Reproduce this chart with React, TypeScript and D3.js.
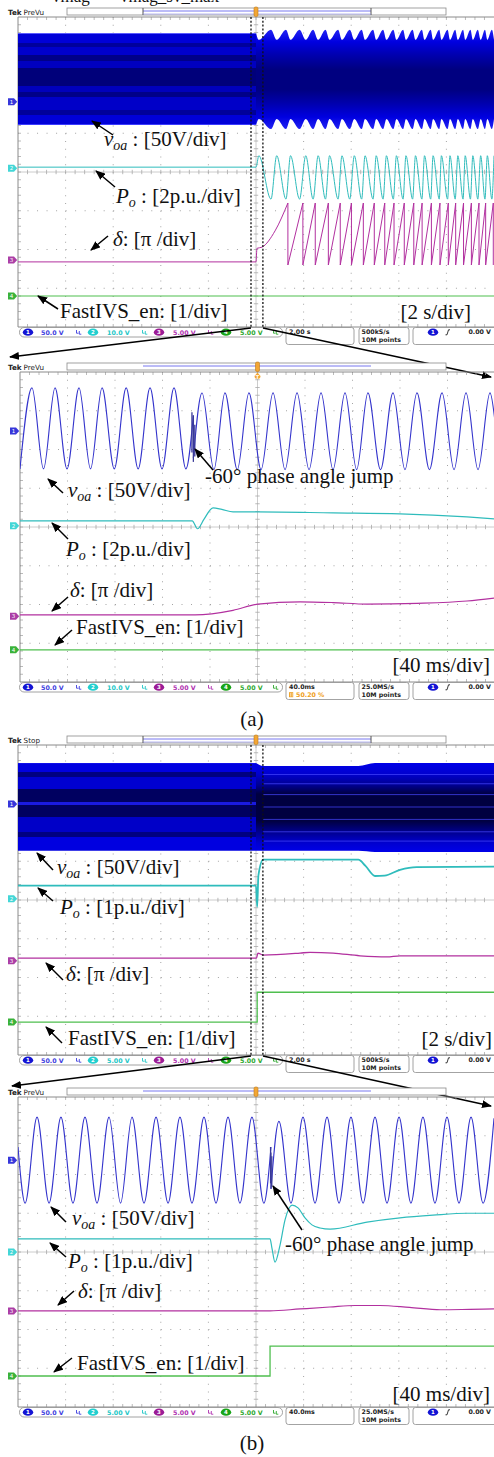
import React from "react";
import * as d3 from "d3";

const W = 494;
const H = 1457;
const SERIF = "'Liberation Serif', 'Times New Roman', serif";
const SANS = "'DejaVu Sans', 'Liberation Sans', sans-serif";

// ================= DATA =================
// ---- (a) overview, 2 s/div, time in s ----
const A1_VOA_PRE_T = [-10, 0];
const A1_VOA_PRE_TOP = [89, 89];
const A1_VOA_PRE_BOT = [-30, -30];
const A1_PO_PEAK_T = [0.12, 0.87, 1.45, 2.09, 2.61, 3.09, 3.61, 4.13, 4.58, 5.05, 5.48, 5.9, 6.3, 6.7, 7.08, 7.44, 7.79, 8.15, 8.48, 8.79, 9.11, 9.44, 9.72, 10.0];
const A1_PO_TROUGH_T = [0.63, 1.26, 1.83, 2.4, 2.92, 3.45, 3.94, 4.44, 4.92, 5.34, 5.77, 6.18, 6.58, 6.97, 7.34, 7.7, 8.05, 8.37, 8.7, 9.01, 9.32, 9.62, 9.91];
const A1_PO_PRE_T = [-10, 0];
const A1_PO_PRE_V = [0.05, 0.05];
const A1_PO_PEAK = 0.64;
const A1_PO_TROUGH = -1.6;
const A1_VOA_TOP_CUSP = 93;
const A1_VOA_TOP_DIP = 80;
const A1_VOA_BOT_CUSP = -35;
const A1_VOA_BOT_DIP = -22;
const A1_DELTA_START_T = [-10, 0, 0.04, 0.25, 0.8, 1.34];
const A1_DELTA_START_V = [-0.05, -0.05, 0.3, 0.33, 0.75, 1.47];
const A1_DELTA_WRAP_T = [1.34, 1.97, 2.49, 3.04, 3.54, 4.01, 4.51, 4.97, 5.41, 5.8, 6.23, 6.63, 6.98, 7.37, 7.73, 8.08, 8.39, 8.72, 9.05, 9.37, 9.65, 9.97];
const A1_DELTA_TOP = 1.47;
const A1_DELTA_BOTTOM = -0.13;
const A1_FIVS_T = [-10, 10];
const A1_FIVS_V = [0, 0];

// ---- (a) zoom, 40 ms/div, time in ms ----
const A2_VOA_PRE_PEAK_T = [-189.9, -170.5, -150.3, -130.9, -110.6, -90.5, -70.3];
const A2_VOA_PRE_TROUGH_T = [-200, -180.2, -160.4, -140.6, -120.6, -100.5, -80.4, -60.3];
const A2_VOA_POST_PEAK_T = [-46.7, -27.4, -7.2, 13.1, 33.3, 53.5, 73.7, 93.0, 114.1, 134.3, 155.4, 175.6, 195.8];
const A2_VOA_POST_TROUGH_T = [-36.7, -17.0, 3.0, 23.2, 43.4, 63.6, 83.5, 103.6, 124.2, 144.8, 165.5, 185.7];
const A2_VOA_PRE_PEAK = 55.5;
const A2_VOA_PRE_TROUGH = -49;
const A2_VOA_POST_PEAK = 49;
const A2_VOA_POST_TROUGH = -50;
const A2_JUMP_T = -54;
const A2_JUMP_PRE_V = 20;
const A2_JUMP_POST_V = -35;
const A2_VOA_END_T = 200;
const A2_VOA_END_V = 12;
const A2_GLITCH_T = [-55.2, -54, -52.8];
const A2_GLITCH_HI = [24, 20, 8];
const A2_GLITCH_LO = [-28, -40, -33];
const A2_PO_T = [-200, -55, -50.5, -45, -37.5, -30, -20.6, 0.4, 63.6, 120, 176.4, 200];
const A2_PO_V = [0.26, 0.26, -0.15, 0.35, 0.93, 0.85, 0.72, 0.72, 0.67, 0.62, 0.46, 0.36];
const A2_DELTA_T = [-200, -52.6, -20.6, 0.4, 35.8, 63.6, 92.2, 134.3, 176.4, 200];
const A2_DELTA_V = [0.03, 0.03, 0.15, 0.31, 0.37, 0.35, 0.31, 0.33, 0.39, 0.47];
const A2_FIVS_T = [-200, 200];
const A2_FIVS_V = [0, 0];

// ---- (b) overview, 2 s/div ----
const B1_VOA_PRE_T = [-10, 0];
const B1_VOA_PRE_TOP = [52.9, 52.9];
const B1_VOA_PRE_BOT = [-60.6, -60.6];
const B1_VOA_POST_T = [0, 0.3, 4.3, 5.0, 10];
const B1_VOA_POST_TOP = [52.9, 49, 49, 52.9, 52.9];
const B1_VOA_POST_BOT = [-60.6, -60.6, -60.6, -62, -62];
const B1_VOA_INNER_V = [38, 26, 12, -4, -20, -36, -48];
const B1_PO_T = [-10, 0, 0.05, 0.1, 0.3, 4.3, 4.6, 5.0, 5.4, 6.05, 6.75, 10];
const B1_PO_V = [0.34, 0.34, -0.2, 0.6, 1.01, 1.01, 0.85, 0.59, 0.6, 0.75, 0.82, 0.83];
const B1_DELTA_T = [-10, 0.02, 0.08, 0.29, 1.85, 2.27, 3.24, 4.37, 5.5, 6.05, 10];
const B1_DELTA_V = [0.07, 0.07, 0.2, 0.15, 0.2, 0.22, 0.2, 0.13, 0.1, 0.13, 0.13];
const B1_FIVS_T = [-10, 0.05, 0.05, 10];
const B1_FIVS_V = [0, 0, 0.77, 0.77];

// ---- (b) zoom, 40 ms/div ----
const B2_VOA_START = [-200, 17];
const B2_VOA_PRE_PEAK_T = [-184, -163.9, -143.7, -123.5, -104.2, -84, -63.9, -43.7, -23.5, -3.4];
const B2_VOA_PRE_TROUGH_T = [-194, -173.9, -153.8, -133.6, -113.8, -94.1, -73.9, -53.8, -33.6, -13.5, 6.6];
const B2_VOA_POST_PEAK_T = [19.3, 39.5, 59.7, 79.8, 100, 120.2, 140.3, 160.5, 180.7];
const B2_VOA_POST_TROUGH_T = [29.4, 49.6, 69.8, 90, 110.1, 130.2, 150.4, 170.6, 190.8];
const B2_VOA_PEAK = 55.5;
const B2_VOA_TROUGH = -55.5;
const B2_VOA_FIRST_POST_PEAK = 50;
const B2_JUMP_T = 12.6;
const B2_JUMP_PRE_V = 17;
const B2_JUMP_POST_V = -37;
const B2_VOA_END_T = 200;
const B2_VOA_END_V = 54;
const B2_GLITCH_T = [12.2, 12.6, 13.3];
const B2_GLITCH_HI = [17, 10, 5];
const B2_GLITCH_LO = [-30, -37, -34];
const B2_PO_T = [-200, 11.8, 13.4, 16, 20.2, 24.4, 30.3, 35.3, 41.2, 47, 53.8, 62.2, 93.3, 121, 148.7, 177.3, 200];
const B2_PO_V = [0.34, 0.34, 0.1, -0.26, 0.18, 0.83, 1.21, 1.14, 0.88, 0.7, 0.62, 0.59, 0.77, 0.88, 0.95, 1.0, 1.0];
const B2_DELTA_T = [-200, 11.8, 37, 62, 83, 104, 129, 155, 180, 200];
const B2_DELTA_V = [0, 0, 0.05, 0.1, 0.14, 0.14, 0.09, 0.03, 0.04, 0.05];
const B2_FIVS_T = [-200, 11.8, 11.8, 200];
const B2_FIVS_V = [0, 0, 0.77, 0.77];

// zoom window on the overview screens (s)
const ZOOM_WIN_T = [-0.21, 0.29];

// status-bar texts
const A_CH_TEXT = ["50.0 V", "10.0 V", "5.00 V", "5.00 V"];
const B_CH_TEXT = ["50.0 V", "5.00 V", "5.00 V", "5.00 V"];
const OVERVIEW_TIME = "2.00 s";
const ZOOM_TIME = "40.0ms";
const OVERVIEW_RATE = "500kS/s";
const ZOOM_RATE = "25.0MS/s";
const RECORD = "10M points";
const TRIG_LEVEL = "0.00 V";
const ZOOM_POS = "50.20 %";

// ================= LAYOUT / STYLE =================
type Cfg = {
  x0: number; x1: number; y0: number; y1: number; tMax: number;
  pos: number[]; scale: number[];
};
const PA1: Cfg = { x0: 18, x1: 494, y0: 17, y1: 327, tMax: 10, pos: [1.81, 0.1, -2.27, -3.2], scale: [50, 2, 1, 1] };
const PA2: Cfg = { x0: 20, x1: 495, y0: 372, y1: 682, tMax: 200, pos: [2.48, 0.03, -2.3, -3.17], scale: [50, 2, 1, 1] };
const PB1: Cfg = { x0: 18, x1: 494, y0: 745, y1: 1055, tMax: 10, pos: [2.48, 0.03, -1.57, -3.15], scale: [50, 1, 1, 1] };
const PB2: Cfg = { x0: 18, x1: 494, y0: 1097, y1: 1407, tMax: 200, pos: [2.37, 0, -1.52, -3.2], scale: [50, 1, 1, 1] };

const TRACE = ["#3434cc", "#2fbcbc", "#b2309f", "#4fbf4f"];
const BADGE = ["#1414d4", "#22cfcf", "#9c1c96", "#18a418"];
const STXT = ["#3d3de0", "#22c6c6", "#b030b0", "#2ea82e"];

type P = [number, number];

function scalesOf(c: Cfg) {
  const x = d3.scaleLinear().domain([-c.tMax, c.tMax]).range([c.x0, c.x1]);
  const y = d3.scaleLinear().domain([-4, 4]).range([c.y1, c.y0]);
  const yv = (ch: number, v: number) => y(c.pos[ch] + v / c.scale[ch]);
  return { x, y, yv };
}
function zip(ts: number[], vs: number[]): P[] {
  return ts.map((t, i) => [t, vs[i]] as P);
}
function alternate(aT: number[], aV: number, bT: number[], bV: number): P[] {
  return [...aT.map((t) => [t, aV] as P), ...bT.map((t) => [t, bV] as P)].sort((p, q) => p[0] - q[0]);
}
function tracePath(c: Cfg, ch: number, pts: P[], curve: any = d3.curveMonotoneX) {
  const { x, yv } = scalesOf(c);
  return (
    d3
      .line<P>()
      .x((d) => x(d[0]))
      .y((d) => yv(ch, d[1]))
      .curve(curve)(pts) || ""
  );
}
type B = { t: number; top: number; bot: number };
function bandPath(c: Cfg, pts: B[], curve: any = d3.curveMonotoneX) {
  const { x, yv } = scalesOf(c);
  return (
    d3
      .area<B>()
      .x((d) => x(d.t))
      .y0((d) => yv(0, d.bot))
      .y1((d) => yv(0, d.top))
      .curve(curve)(pts) || ""
  );
}

function Graticule({ c }: { c: Cfg }) {
  const { x0, x1, y0, y1 } = c;
  const dx = (x1 - x0) / 10;
  const dy = (y1 - y0) / 8;
  const cx = x0 + 5 * dx;
  const cy = y0 + 4 * dy;
  const els: React.ReactNode[] = [];
  for (let i = 1; i < 10; i++) {
    if (i === 5) continue;
    const xx = x0 + i * dx;
    els.push(<line key={"v" + i} x1={xx} x2={xx} y1={y0} y2={y1} stroke="#9a9a9a" strokeWidth={0.9} strokeDasharray={`1 ${dy / 5 - 1}`} />);
  }
  for (let j = 1; j < 8; j++) {
    if (j === 4) continue;
    const yy = y0 + j * dy;
    els.push(<line key={"h" + j} x1={x0} x2={x1} y1={yy} y2={yy} stroke="#9a9a9a" strokeWidth={0.9} strokeDasharray={`1 ${dx / 5 - 1}`} />);
  }
  els.push(<line key="cv" x1={cx} x2={cx} y1={y0} y2={y1} stroke="#c6c6c6" strokeWidth={0.9} />);
  els.push(<line key="ch" x1={x0} x2={x1} y1={cy} y2={cy} stroke="#c6c6c6" strokeWidth={0.9} />);
  for (let k = 1; k < 50; k++) {
    const xx = x0 + (k * dx) / 5;
    els.push(<line key={"tc" + k} x1={xx} x2={xx} y1={cy - 2.2} y2={cy + 2.2} stroke="#a8a8a8" strokeWidth={0.8} />);
    els.push(<line key={"tt" + k} x1={xx} x2={xx} y1={y0} y2={y0 + 3} stroke="#a8a8a8" strokeWidth={0.8} />);
    els.push(<line key={"tb" + k} x1={xx} x2={xx} y1={y1 - 3} y2={y1} stroke="#a8a8a8" strokeWidth={0.8} />);
  }
  for (let k = 1; k < 40; k++) {
    const yy = y0 + (k * dy) / 5;
    els.push(<line key={"vc" + k} x1={cx - 2.2} x2={cx + 2.2} y1={yy} y2={yy} stroke="#a8a8a8" strokeWidth={0.8} />);
    els.push(<line key={"vl" + k} x1={x0} x2={x0 + 3} y1={yy} y2={yy} stroke="#a8a8a8" strokeWidth={0.8} />);
  }
  els.push(<path key="bd" d={`M${x1 + 2},${y0} H${x0} V${y1} H${x1 + 2}`} stroke="#8a8a8a" strokeWidth={1} fill="none" />);
  return <g>{els}</g>;
}

function Header({ c, mode, bars, drop }: { c: Cfg; mode: string; bars: boolean; drop: boolean }) {
  const { x } = scalesOf(c);
  const tx = x(0);
  const by = c.y0 - 9;
  return (
    <g>
      <text x={8} y={c.y0 - 2.5} fontFamily={SANS} fontSize={7.2} fill="#222">
        <tspan fontWeight="bold">Tek</tspan>
        <tspan dx={2}>{mode}</tspan>
      </text>
      <rect x={67} y={by} width={379} height={7} fill="#fff" stroke="#8a8a8a" strokeWidth={0.8} />
      <line x1={143} x2={371} y1={by + 3} y2={by + 3} stroke="#7878f0" strokeWidth={1} />
      {bars && <line x1={143} x2={143} y1={by} y2={by + 7} stroke="#555" strokeWidth={1} />}
      {bars && <line x1={371} x2={371} y1={by} y2={by + 7} stroke="#555" strokeWidth={1} />}
      {bars && <line x1={143} x2={371} y1={by + 6} y2={by + 6} stroke="#8a8af0" strokeWidth={0.6} />}
      <rect x={tx - 2} y={by - 1} width={4} height={9.5} rx={1.5} fill="#f2a634" stroke="#c07818" strokeWidth={0.6} />
      {drop && (
        <g>
          <path d={`M${tx - 3},${c.y0 + 4} L${tx},${c.y0 + 0.5} L${tx + 3},${c.y0 + 4} A3,3 0 1 1 ${tx - 3},${c.y0 + 4} Z`} fill="#f2a634" />
          <text x={tx} y={c.y0 + 7.4} textAnchor="middle" fontFamily={SANS} fontSize={5} fill="#fff" fontWeight="bold">T</text>
        </g>
      )}
    </g>
  );
}

function ChMarkers({ c }: { c: Cfg }) {
  const { yv } = scalesOf(c);
  return (
    <g>
      {[0, 1, 2, 3].map((ch) => {
        const yy = yv(ch, 0);
        const xl = c.x0 - 10;
        return (
          <g key={ch}>
            <path d={`M${xl},${yy - 3.5} h6 l3.2,3.5 l-3.2,3.5 h-6 z`} fill={BADGE[ch]} opacity={0.85} />
            <text x={xl + 3.6} y={yy + 2.2} textAnchor="middle" fontFamily={SANS} fontSize={5.5} fill="#fff">{ch + 1}</text>
          </g>
        );
      })}
    </g>
  );
}

function StatusBar({ gb, chText, time, rate, extra }: { gb: number; chText: string[]; time: string; rate: string; extra: string | null }) {
  const badgeX = [28, 93, 159, 226];
  const valX = [41, 107, 173, 240];
  const bwX = [79, 145, 211, 276];
  return (
    <g fontFamily={SANS} fontSize={6.3} fontWeight="bold">
      <rect x={19.5} y={gb + 0.5} width={263} height={9.5} rx={4.5} fill="#fff" stroke="#8c8c8c" strokeWidth={0.8} />
      {chText.map((s, i) => (
        <g key={i}>
          <ellipse cx={badgeX[i]} cy={gb + 5.2} rx={5.2} ry={3.6} fill={BADGE[i]} />
          <text x={badgeX[i]} y={gb + 7.3} textAnchor="middle" fill="#fff" fontSize={5.4}>{i + 1}</text>
          <text x={valX[i]} y={gb + 7.6} fill={STXT[i]}>{s}</text>
          <path d={`M${bwX[i] - 2.5},${gb + 3} v3.2 h2 M${bwX[i] + 0.3},${gb + 4} v3.2 h2`} stroke={STXT[i]} strokeWidth={0.9} fill="none" />
        </g>
      ))}
      <rect x={286} y={gb + 0.5} width={68} height={17} rx={2.5} fill="#fff" stroke="#8c8c8c" strokeWidth={0.8} />
      <text x={289} y={gb + 7.4} fill="#222">{time}</text>
      {extra && (
        <g>
          <rect x={289} y={gb + 10.2} width={4.2} height={5} fill="#f0a020" />
          <line x1={290.4} x2={290.4} y1={gb + 11} y2={gb + 14.6} stroke="#fff" strokeWidth={0.6} />
          <line x1={292.1} x2={292.1} y1={gb + 11} y2={gb + 14.6} stroke="#fff" strokeWidth={0.6} />
          <text x={296} y={gb + 15} fill="#f0a020">{extra}</text>
        </g>
      )}
      <rect x={359} y={gb + 0.5} width={50} height={17} rx={2.5} fill="#fff" stroke="#8c8c8c" strokeWidth={0.8} />
      <text x={361.5} y={gb + 7.4} fill="#222">{rate}</text>
      <text x={361.5} y={gb + 15} fill="#222">{RECORD}</text>
      <rect x={413} y={gb + 0.5} width={90} height={17} rx={2.5} fill="#fff" stroke="#8c8c8c" strokeWidth={0.8} />
      <ellipse cx={433} cy={gb + 5.2} rx={5.2} ry={3.6} fill={BADGE[0]} />
      <text x={433} y={gb + 7.3} textAnchor="middle" fill="#fff" fontSize={5.4}>1</text>
      <path d={`M${445.5},${gb + 7.8} h1.5 l1.5,-5 h1.5`} stroke="#222" strokeWidth={0.9} fill="none" />
      <text x={491} y={gb + 7.4} textAnchor="end" fill="#222">{TRIG_LEVEL}</text>
    </g>
  );
}

function Arrow({ x1, y1, x2, y2 }: { x1: number; y1: number; x2: number; y2: number }) {
  return <line x1={x1} y1={y1} x2={x2} y2={y2} stroke="#000" strokeWidth={1.5} markerEnd="url(#ah)" />;
}
function VoaLabel({ x, y }: { x: number; y: number }) {
  return (
    <text x={x} y={y} fontFamily={SERIF} fontSize={21} fill="#111">
      <tspan fontStyle="italic">v</tspan>
      <tspan fontStyle="italic" fontSize={14} dy={4}>oa</tspan>
      <tspan dy={-4}>{" : [50V/div]"}</tspan>
    </text>
  );
}
function PoLabel({ x, y, s }: { x: number; y: number; s: string }) {
  return (
    <text x={x} y={y} fontFamily={SERIF} fontSize={21} fill="#111">
      <tspan fontStyle="italic">P</tspan>
      <tspan fontStyle="italic" fontSize={14} dy={4}>o</tspan>
      <tspan dy={-4}>{` : [${s}/div]`}</tspan>
    </text>
  );
}
function DeltaLabel({ x, y }: { x: number; y: number }) {
  return (
    <text x={x} y={y} fontFamily={SERIF} fontSize={21} fill="#111">
      <tspan fontStyle="italic">δ</tspan>
      <tspan>{": [π /div]"}</tspan>
    </text>
  );
}
function TextLbl({ x, y, s, anchor }: { x: number; y: number; s: string; anchor?: string }) {
  return (
    <text x={x} y={y} fontFamily={SERIF} fontSize={21} fill="#111" textAnchor={anchor || "start"}>{s}</text>
  );
}

function Clip({ id, c }: { id: string; c: Cfg }) {
  return (
    <clipPath id={id}>
      <rect x={c.x0} y={c.y0} width={c.x1 - c.x0} height={c.y1 - c.y0} />
    </clipPath>
  );
}

function ZoomWindowLines({ c }: { c: Cfg }) {
  const { x } = scalesOf(c);
  return (
    <g>
      {ZOOM_WIN_T.map((t, i) => (
        <line key={i} x1={x(t)} x2={x(t)} y1={c.y0} y2={c.y1 + 1} stroke="#111" strokeWidth={1.3} strokeDasharray="2 1.8" />
      ))}
    </g>
  );
}

// ---------- panels ----------
function PanelA1() {
  const c = PA1;
  const pre: B[] = A1_VOA_PRE_T.map((t, i) => ({ t, top: A1_VOA_PRE_TOP[i], bot: A1_VOA_PRE_BOT[i] }));
  const post: B[] = [
    { t: A1_VOA_PRE_T[1], top: A1_VOA_PRE_TOP[1], bot: A1_VOA_PRE_BOT[1] },
    ...[
      ...A1_PO_TROUGH_T.map((t) => ({ t, top: A1_VOA_TOP_CUSP, bot: A1_VOA_BOT_CUSP })),
      ...A1_PO_PEAK_T.map((t) => ({ t, top: A1_VOA_TOP_DIP, bot: A1_VOA_BOT_DIP })),
    ].sort((p, q) => p.t - q.t),
  ];
  const po: P[] = [...zip(A1_PO_PRE_T, A1_PO_PRE_V), ...alternate(A1_PO_PEAK_T, A1_PO_PEAK, A1_PO_TROUGH_T, A1_PO_TROUGH)];
  const deltaTeeth: P[] = [];
  A1_DELTA_WRAP_T.forEach((w) => {
    deltaTeeth.push([w, A1_DELTA_TOP]);
    deltaTeeth.push([w, A1_DELTA_BOTTOM]);
  });
  return (
    <g>
      <Graticule c={c} />
      <Header c={c} mode="PreVu" bars={true} drop={false} />
      <g clipPath="url(#clipA1)">
        <path d={bandPath(c, pre, d3.curveLinear)} fill="url(#gA1L)" />
        <path d={bandPath(c, post)} fill="url(#gA1R)" />
        <path d={tracePath(c, 1, po)} stroke={TRACE[1]} strokeWidth={1} fill="none" />
        <path d={tracePath(c, 2, zip(A1_DELTA_START_T, A1_DELTA_START_V))} stroke={TRACE[2]} strokeWidth={1} fill="none" />
        <path d={tracePath(c, 2, deltaTeeth, d3.curveLinear)} stroke={TRACE[2]} strokeWidth={1} fill="none" />
        <path d={tracePath(c, 3, zip(A1_FIVS_T, A1_FIVS_V), d3.curveLinear)} stroke={TRACE[3]} strokeWidth={1.2} fill="none" />
      </g>
      <ZoomWindowLines c={c} />
      <ChMarkers c={c} />
      <StatusBar gb={c.y1} chText={A_CH_TEXT} time={OVERVIEW_TIME} rate={OVERVIEW_RATE} extra={null} />
      <Arrow x1={113} y1={135} x2={92} y2={121} />
      <VoaLabel x={104} y={146} />
      <Arrow x1={115} y1={187} x2={96} y2={171} />
      <PoLabel x={116} y={203} s="2p.u." />
      <Arrow x1={108} y1={236} x2={91} y2={250} />
      <DeltaLabel x={113} y={246} />
      <Arrow x1={58} y1={309} x2={38} y2={296} />
      <TextLbl x={60} y={318} s="FastIVS_en: [1/div]" />
      <TextLbl x={471} y={319} s="[2 s/div]" anchor="end" />
    </g>
  );
}

function PanelA2() {
  const c = PA2;
  const { x, yv } = scalesOf(c);
  const pre: P[] = [
    ...alternate(A2_VOA_PRE_PEAK_T, A2_VOA_PRE_PEAK, A2_VOA_PRE_TROUGH_T, A2_VOA_PRE_TROUGH),
    [A2_JUMP_T, A2_JUMP_PRE_V],
  ];
  const post: P[] = [
    [A2_JUMP_T, A2_JUMP_POST_V],
    ...alternate(A2_VOA_POST_PEAK_T, A2_VOA_POST_PEAK, A2_VOA_POST_TROUGH_T, A2_VOA_POST_TROUGH),
    [A2_VOA_END_T, A2_VOA_END_V],
  ];
  return (
    <g>
      <Graticule c={c} />
      <Header c={c} mode="PreVu" bars={false} drop={true} />
      <g clipPath="url(#clipA2)">
        <path d={tracePath(c, 0, pre)} stroke={TRACE[0]} strokeWidth={1.1} fill="none" />
        <path d={tracePath(c, 0, post)} stroke={TRACE[0]} strokeWidth={1.1} fill="none" />
        {A2_GLITCH_T.map((t, i) => (
          <line key={i} x1={x(t)} x2={x(t)} y1={yv(0, A2_GLITCH_HI[i])} y2={yv(0, A2_GLITCH_LO[i])} stroke="#3a3a98" strokeWidth={1.3} />
        ))}
        <path d={tracePath(c, 1, zip(A2_PO_T, A2_PO_V))} stroke={TRACE[1]} strokeWidth={1.2} fill="none" />
        <path d={tracePath(c, 2, zip(A2_DELTA_T, A2_DELTA_V))} stroke={TRACE[2]} strokeWidth={1.2} fill="none" />
        <path d={tracePath(c, 3, zip(A2_FIVS_T, A2_FIVS_V), d3.curveLinear)} stroke={TRACE[3]} strokeWidth={1.2} fill="none" />
      </g>
      <ChMarkers c={c} />
      <StatusBar gb={c.y1} chText={A_CH_TEXT} time={ZOOM_TIME} rate={ZOOM_RATE} extra={ZOOM_POS} />
      <Arrow x1={213} y1={470} x2={195} y2={449} />
      <TextLbl x={205} y={483} s="-60° phase angle jump" />
      <Arrow x1={63} y1={493} x2={48} y2={479} />
      <VoaLabel x={68} y={497} />
      <Arrow x1={68} y1={539} x2={52} y2={523} />
      <PoLabel x={66} y={556} s="2p.u." />
      <Arrow x1={68} y1={597} x2={52} y2={611} />
      <DeltaLabel x={70} y={597} />
      <Arrow x1={72} y1={630} x2={55} y2={645} />
      <TextLbl x={76} y={634} s="FastIVS_en: [1/div]" />
      <TextLbl x={490} y={672} s="[40 ms/div]" anchor="end" />
    </g>
  );
}

function PanelB1() {
  const c = PB1;
  const { x, yv } = scalesOf(c);
  const pre: B[] = B1_VOA_PRE_T.map((t, i) => ({ t, top: B1_VOA_PRE_TOP[i], bot: B1_VOA_PRE_BOT[i] }));
  const post: B[] = B1_VOA_POST_T.map((t, i) => ({ t, top: B1_VOA_POST_TOP[i], bot: B1_VOA_POST_BOT[i] }));
  return (
    <g>
      <Graticule c={c} />
      <Header c={c} mode="Stop" bars={true} drop={false} />
      <g clipPath="url(#clipB1)">
        <path d={bandPath(c, pre, d3.curveLinear)} fill="url(#gB1L)" />
        <path d={bandPath(c, post)} fill="url(#gB1R)" />
        {B1_VOA_INNER_V.map((v, i) => (
          <line key={i} x1={x(0.3)} x2={x(10)} y1={yv(0, v)} y2={yv(0, v)} stroke="#4646ff" strokeWidth={0.9} opacity={0.8} />
        ))}
        <path d={tracePath(c, 1, zip(B1_PO_T, B1_PO_V))} stroke={TRACE[1]} strokeWidth={1.8} fill="none" />
        <path d={tracePath(c, 2, zip(B1_DELTA_T, B1_DELTA_V))} stroke={TRACE[2]} strokeWidth={1.3} fill="none" />
        <path d={tracePath(c, 3, zip(B1_FIVS_T, B1_FIVS_V), d3.curveLinear)} stroke={TRACE[3]} strokeWidth={1.3} fill="none" />
      </g>
      <ZoomWindowLines c={c} />
      <ChMarkers c={c} />
      <StatusBar gb={c.y1} chText={B_CH_TEXT} time={OVERVIEW_TIME} rate={OVERVIEW_RATE} extra={null} />
      <Arrow x1={53} y1={870} x2={37} y2={853} />
      <VoaLabel x={57} y={874} />
      <Arrow x1={53} y1={901} x2={38} y2={888} />
      <PoLabel x={60} y={914} s="1p.u." />
      <Arrow x1={63} y1={980} x2={46} y2={963} />
      <DeltaLabel x={66} y={981} />
      <Arrow x1={62} y1={1043} x2={46} y2={1027} />
      <TextLbl x={68} y={1045} s="FastIVS_en: [1/div]" />
      <TextLbl x={492} y={1046} s="[2 s/div]" anchor="end" />
    </g>
  );
}

function PanelB2() {
  const c = PB2;
  const { x, yv } = scalesOf(c);
  const pre: P[] = [
    [B2_VOA_START[0], B2_VOA_START[1]],
    ...alternate(B2_VOA_PRE_PEAK_T, B2_VOA_PEAK, B2_VOA_PRE_TROUGH_T, B2_VOA_TROUGH),
    [B2_JUMP_T, B2_JUMP_PRE_V],
  ];
  const postAlt = alternate(B2_VOA_POST_PEAK_T, B2_VOA_PEAK, B2_VOA_POST_TROUGH_T, B2_VOA_TROUGH);
  postAlt[0] = [postAlt[0][0], B2_VOA_FIRST_POST_PEAK];
  const post: P[] = [[B2_JUMP_T, B2_JUMP_POST_V], ...postAlt, [B2_VOA_END_T, B2_VOA_END_V]];
  return (
    <g>
      <Graticule c={c} />
      <Header c={c} mode="PreVu" bars={false} drop={false} />
      <g clipPath="url(#clipB2)">
        <path d={tracePath(c, 0, pre)} stroke={TRACE[0]} strokeWidth={1.1} fill="none" />
        <path d={tracePath(c, 0, post)} stroke={TRACE[0]} strokeWidth={1.1} fill="none" />
        {B2_GLITCH_T.map((t, i) => (
          <line key={i} x1={x(t)} x2={x(t)} y1={yv(0, B2_GLITCH_HI[i])} y2={yv(0, B2_GLITCH_LO[i])} stroke="#3a3a98" strokeWidth={1.2} />
        ))}
        <path d={tracePath(c, 1, zip(B2_PO_T, B2_PO_V))} stroke={TRACE[1]} strokeWidth={1.2} fill="none" />
        <path d={tracePath(c, 2, zip(B2_DELTA_T, B2_DELTA_V))} stroke={TRACE[2]} strokeWidth={1.2} fill="none" />
        <path d={tracePath(c, 3, zip(B2_FIVS_T, B2_FIVS_V), d3.curveLinear)} stroke={TRACE[3]} strokeWidth={1.3} fill="none" />
      </g>
      <ChMarkers c={c} />
      <StatusBar gb={c.y1} chText={B_CH_TEXT} time={ZOOM_TIME} rate={ZOOM_RATE} extra={null} />
      <Arrow x1={66} y1={1222} x2={51} y2={1207} />
      <VoaLabel x={72} y={1225} />
      <Arrow x1={302} y1={1230} x2={273} y2={1186} />
      <TextLbl x={285} y={1251} s="-60° phase angle jump" />
      <Arrow x1={66} y1={1257} x2={50} y2={1243} />
      <PoLabel x={68} y={1268} s="1p.u." />
      <Arrow x1={74} y1={1291} x2={58} y2={1305} />
      <DeltaLabel x={78} y={1298} />
      <Arrow x1={72} y1={1358} x2={54} y2={1372} />
      <TextLbl x={77} y={1370} s="FastIVS_en: [1/div]" />
      <TextLbl x={490} y={1401} s="[40 ms/div]" anchor="end" />
    </g>
  );
}

function Grad({ id, stops }: { id: string; stops: [number, string][] }) {
  return (
    <linearGradient id={id} x1="0" y1="0" x2="0" y2="1">
      {stops.map(([o, col], i) => (
        <stop key={i} offset={`${o}%`} stopColor={col} />
      ))}
    </linearGradient>
  );
}

export default function App() {
  return (
    <svg
      width={W}
      height={H}
      viewBox={`0 0 ${W} ${H}`}
      style={{ position: "absolute", left: 0, top: 0, background: "#fff" }}
      xmlns="http://www.w3.org/2000/svg"
    >
      <defs>
        <marker id="ah" viewBox="0 0 10 8" refX={9} refY={4} markerWidth={10} markerHeight={8} markerUnits="userSpaceOnUse" orient="auto">
          <path d="M0,0 L10,4 L0,8 z" fill="#000" />
        </marker>
        <Clip id="clipA1" c={PA1} />
        <Clip id="clipA2" c={PA2} />
        <Clip id="clipB1" c={PB1} />
        <Clip id="clipB2" c={PB2} />
        <Grad
          id="gA1L"
          stops={[
            [0, "#5a5aff"], [1.5, "#5a5aff"], [1.5, "#0000d8"], [11, "#0000d8"], [11, "#00009c"], [15, "#00009c"],
            [15, "#0000cc"], [24, "#0000cc"], [24, "#000088"], [30, "#000088"], [30, "#0000c0"], [38, "#0000c0"],
            [38, "#00007a"], [58, "#00007a"], [58, "#0000bc"], [64, "#0000bc"], [64, "#000088"], [70, "#000088"],
            [70, "#0000c8"], [84, "#0000c8"], [84, "#00009a"], [89, "#00009a"], [89, "#0000d8"], [98.5, "#0000d8"],
            [98.5, "#3a3aff"], [100, "#3a3aff"],
          ]}
        />
        <Grad
          id="gA1R"
          stops={[[0, "#2222f4"], [12, "#0000e0"], [25, "#0000b0"], [40, "#000080"], [60, "#000080"], [75, "#0000b0"], [88, "#0000e0"], [100, "#2222f4"]]}
        />
        <Grad
          id="gB1L"
          stops={[
            [0, "#3030ff"], [1, "#0000e0"], [10, "#0000e0"], [10, "#000080"], [16, "#000080"], [16, "#0000d0"],
            [30, "#0000d0"], [30, "#000060"], [45, "#000060"], [45, "#1a1ae0"], [48, "#1a1ae0"], [48, "#000060"],
            [62, "#000060"], [62, "#0000c8"], [78, "#0000c8"], [78, "#000080"], [84, "#000080"], [84, "#0000e0"], [100, "#0000e0"],
          ]}
        />
        <Grad
          id="gB1R"
          stops={[[0, "#0000e8"], [12, "#0000d0"], [25, "#000090"], [35, "#000040"], [65, "#000040"], [78, "#000090"], [90, "#0000d0"], [100, "#0000e8"]]}
        />
      </defs>
      <rect x={0} y={0} width={W} height={H} fill="#fff" />
      <g fontFamily={SERIF} fontSize={17} fill="#111">
        <text x={52} y={2}>vmag</text>
        <text x={120} y={2}>vmag_sv_max</text>
      </g>
      <PanelA1 />
      <Arrow x1={251} y1={328} x2={10} y2={357} />
      <Arrow x1={263} y1={328} x2={491} y2={377} />
      <PanelA2 />
      <TextLbl x={252} y={726} s="(a)" anchor="middle" />
      <PanelB1 />
      <Arrow x1={251} y1={1056} x2={12} y2={1086} />
      <Arrow x1={263} y1={1056} x2={491} y2={1106} />
      <PanelB2 />
      <TextLbl x={252} y={1450} s="(b)" anchor="middle" />
    </svg>
  );
}
